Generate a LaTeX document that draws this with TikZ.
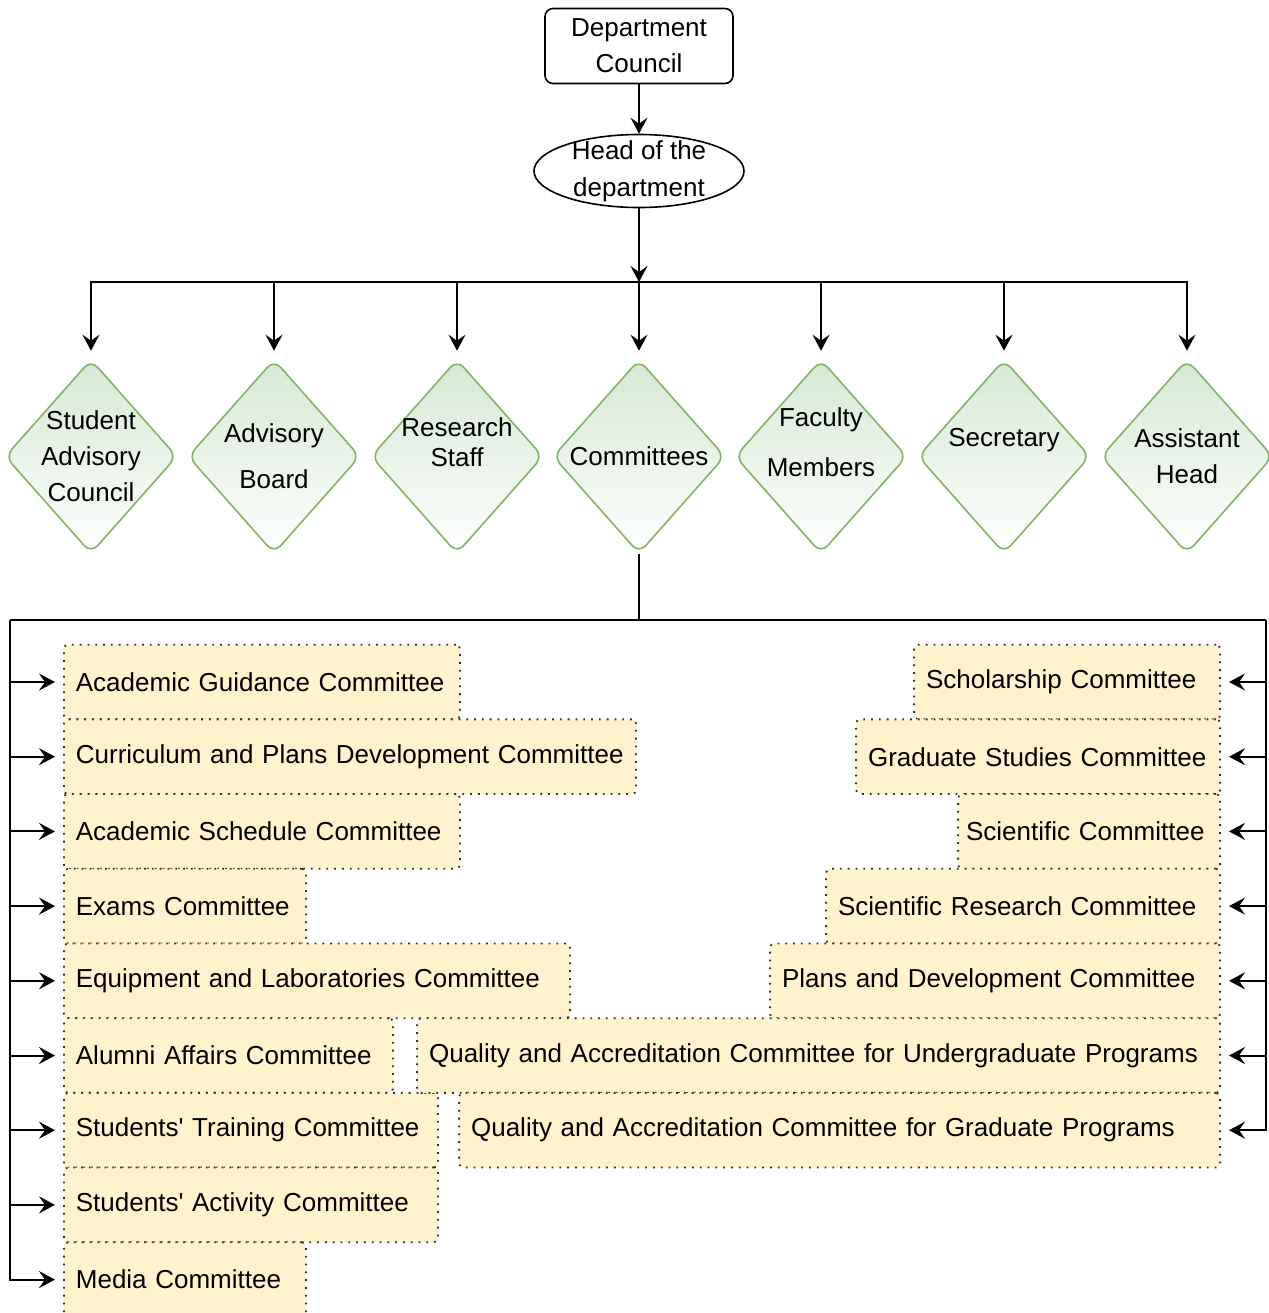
\documentclass[tikz,border=0pt]{standalone}
\usepackage{fontspec}
\setmainfont{Liberation Sans}
\usepackage{tikz}
\usetikzlibrary{calc,positioning,arrows,arrows.meta,shapes.geometric,shapes.misc}
\definecolor{leaf}{HTML}{82B366}
\definecolor{leaffill}{HTML}{D5E8D4}
\definecolor{cream}{HTML}{FFF2CC}
\tikzset{
  council/.style={rectangle, draw=black, thick, rounded corners=4pt, align=center, minimum width=94pt, minimum height=37.5pt, inner sep=0pt},
  head/.style={ellipse, draw=black, thick, minimum width=105pt, minimum height=36.5pt, inner sep=0pt},
  unit/.style={diamond, draw=leaf, thick, rounded corners=5pt, top color=leaffill, bottom color=white, minimum width=86pt, minimum height=97pt, inner sep=0pt},
  lbl/.style={align=center, inner sep=0pt},
  cbox/.style={rectangle, draw=black!80, fill=cream, line width=0.9pt, dash pattern=on 0.9pt off 3pt, rounded corners=2pt, minimum height=37.35pt, inner xsep=6pt, inner ysep=0pt, align=left},
  lbox/.style={cbox, anchor=west},
  rbox/.style={cbox, anchor=east},
  line/.style={line width=1pt, ->},
  gap/.style={shorten >=4pt},
  elbow/.style={to path={-| (\tikztotarget)}},
  elbowv/.style={to path={|- (\tikztotarget)}},
}

\begin{document}
\begin{tikzpicture}[x=0.5pt, y=-0.5pt, >={Stealth[length=8pt,width=8.5pt,inset=3pt]}, font=\fontsize{13}{18}\selectfont]
   \useasboundingbox (0,0) rectangle (1269,1313);
   % top of the chart
   \node[council] (dc) at (639,46) {Department\\Council};
   \node[head, label={[lbl]center:{Head of the\\[0.5pt]department}}] (hd) at (639,171) {};
   \coordinate (bus) at (639,282);

   % units under the head
   \node[unit, label={[lbl]center:{Student\\Advisory\\Council}}] (sac) at (91,456.5) {};
   \node[unit, label={[lbl]center:{Advisory\\[5pt]Board}}] (ab) at (274,456.5) {};
   \node[unit, label={[lbl,yshift=7pt]center:{Research\\[-3pt]Staff}}] (rs) at (457,456.5) {};
   \node[unit, label={[lbl]center:{Committees}}] (com) at (639,456.5) {};
   \node[unit, label={[lbl,yshift=7pt]center:{Faculty\\[7pt]Members}}] (fm) at (821,456.5) {};
   \node[unit, label={[lbl,yshift=8pt]center:{Secretary}}] (sec) at (1004,456.5) {};
   \node[unit, label={[lbl]center:{Assistant\\Head}}] (ah) at (1187,456.5) {};

   \coordinate (split) at (639,620);
   \coordinate (lft) at (10,620);
   \coordinate (rgt) at (1266,620);

   % committees, left column
   \node[lbox, text width=186pt] (ag) at (63,682) {Academic Guidance Committee};
   \node[lbox, text width=274pt] (cpd) at (63,756.7) {Curriculum and Plans Development Committee};
   \node[lbox, text width=186pt] (asc) at (63,831.4) {Academic Schedule Committee};
   \node[lbox, text width=109pt] (ex) at (63,906.1) {Exams Committee};
   \node[lbox, text width=241pt] (el) at (63,980.8) {Equipment and Laboratories Committee};
   \node[lbox, text width=152.5pt] (aa) at (63,1055.5) {Alumni Affairs Committee};
   \node[lbox, text width=175pt] (st) at (63,1130.2) {Students\textquotesingle{} Training Committee};
   \node[lbox, text width=175pt] (sa) at (63,1204.9) {Students\textquotesingle{} Activity Committee};
   \node[lbox, text width=109pt] (mc) at (63,1279.6) {Media Committee};

   % committees, right column
   \node[rbox, text width=141pt] (sch) at (1221,682) {Scholarship Committee};
   \node[rbox, text width=170pt] (gs) at (1221,756.7) {Graduate Studies Committee};
   \node[rbox, text width=123pt, inner xsep=4pt] (sc) at (1221,831.4) {Scientific Committee};
   \node[rbox, text width=185pt] (sr) at (1221,906.1) {Scientific Research Committee};
   \node[rbox, text width=213pt] (pd) at (1221,980.8) {Plans and Development Committee};
   \node[rbox, text width=389.5pt] (qu) at (1221,1055.5) {Quality and Accreditation Committee for Undergraduate Programs};
   \node[rbox, text width=368.5pt] (qg) at (1221,1130.2) {Quality and Accreditation Committee for Graduate Programs};

  \path[line]
    (dc) edge (hd)
    (hd) edge (hd |- bus);
  \path[line, gap]
    (bus) edge[elbow] (sac)
          edge[elbow] (ab)
          edge[elbow] (rs)
          edge[elbow] (com)
          edge[elbow] (fm)
          edge[elbow] (sec)
          edge[elbow] (ah);
  \path[draw, line width=1pt] (com) -- (split) (lft) -- (rgt);
  \path[line, gap]
    (lft) edge[elbowv] (ag)
          edge[elbowv] (cpd)
          edge[elbowv] (asc)
          edge[elbowv] (ex)
          edge[elbowv] (el)
          edge[elbowv] (aa)
          edge[elbowv] (st)
          edge[elbowv] (sa)
          edge[elbowv] (mc)
    (rgt) edge[elbowv] (sch)
          edge[elbowv] (gs)
          edge[elbowv] (sc)
          edge[elbowv] (sr)
          edge[elbowv] (pd)
          edge[elbowv] (qu)
          edge[elbowv] (qg);
\end{tikzpicture}
\end{document}
